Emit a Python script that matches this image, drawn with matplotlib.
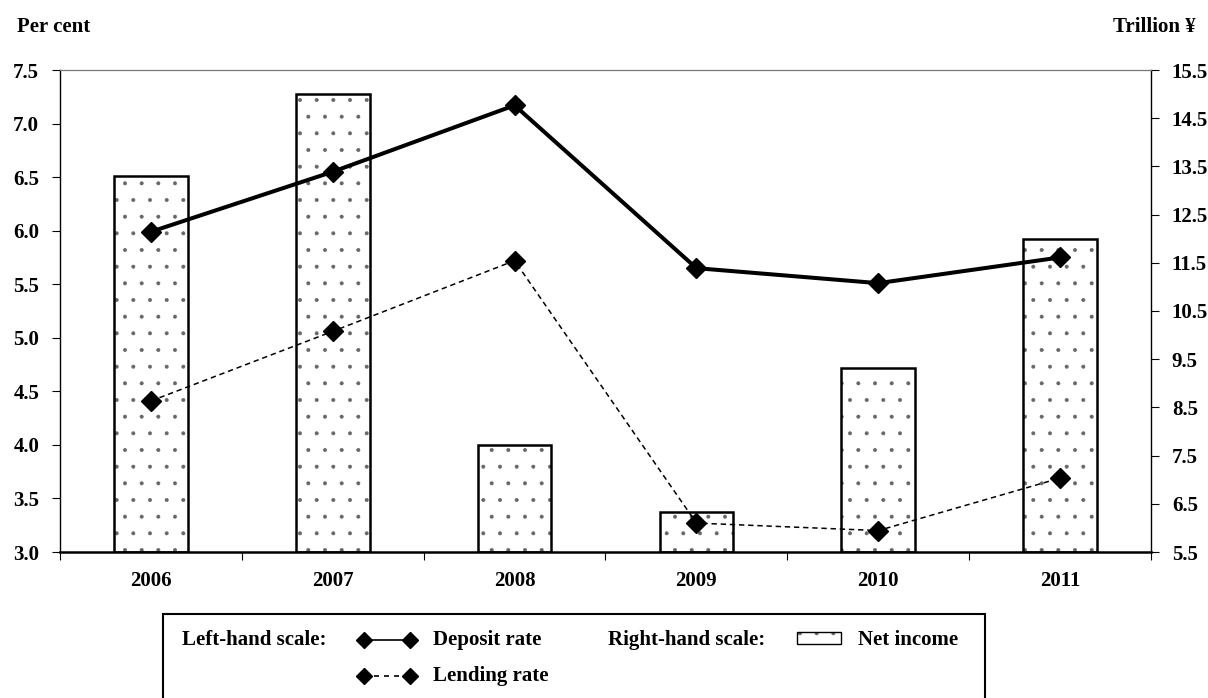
import matplotlib
matplotlib.use("Agg")
import matplotlib.pyplot as plt
from matplotlib.lines import Line2D
from matplotlib.patches import Rectangle

plt.rcParams['font.family'] = ['Liberation Serif', 'DejaVu Serif']
plt.rcParams['font.weight'] = 'bold'
plt.rcParams['hatch.linewidth'] = 0.4

years: list[str] = ['2006', '2007', '2008', '2009', '2010', '2011']
deposit_rate: list[float] = [5.99, 6.55, 7.17, 5.65, 5.51, 5.75]
lending_rate: list[float] = [4.41, 5.06, 5.72, 3.27, 3.20, 3.69]
net_income: list[float] = [13.3, 15.0, 7.72, 6.33, 9.32, 11.99]

left_ticks: list[float] = [3.0 + 0.5 * i for i in range(10)]
right_ticks: list[float] = [5.5 + 1.0 * i for i in range(11)]

W, H = 1208, 698
FS = 15
DOT = '#666666'


def fx(px: float) -> float:
    return px / W


def fy(py: float) -> float:
    return 1 - py / H


fig = plt.figure(figsize=(W / 100, H / 100), dpi=100)
ax = fig.add_axes([fx(60), fy(552), fx(1151) - fx(60), fy(70) - fy(552)])
ax2 = ax.twinx()

x = list(range(len(years)))

# --- bars on right-hand scale ---
heights = [v - 5.5 for v in net_income]
ax2.bar(x, heights, width=0.405, bottom=5.5, color='white', edgecolor=DOT,
        linewidth=0, hatch='.')
ax2.bar(x, heights, width=0.405, bottom=5.5, fill=False, edgecolor='black',
        linewidth=1.8)
ax2.set_ylim(5.5, 15.5)
ax2.set_yticks(right_ticks)
ax2.set_yticklabels([f'{t:.1f}' for t in right_ticks], fontsize=FS, fontweight='bold')
ax2.tick_params(axis='y', direction='out', length=6, width=0.8, pad=9)

# --- lines on left-hand scale ---
ax.set_zorder(ax2.get_zorder() + 1)
ax.patch.set_visible(False)
ax.plot(x, deposit_rate, '-', color='black', linewidth=2.9, marker='D',
        markersize=10, zorder=3)
ax.plot(x, lending_rate, color='black', linewidth=1.1, linestyle=(0, (3.5, 2.5)),
        marker='D', markersize=10, zorder=3)
ax.set_ylim(3.0, 7.5)
ax.set_xlim(-0.5, len(years) - 0.5)
ax.set_yticks(left_ticks)
ax.set_yticklabels([f'{t:.1f}' for t in left_ticks], fontsize=FS, fontweight='bold')
ax.tick_params(axis='y', direction='out', length=6, width=0.8, pad=9)
ax.set_xticks(x)
ax.set_xticklabels(years, fontsize=FS, fontweight='bold')
ax.set_xticks([i - 0.5 for i in range(len(years) + 1)], minor=True)
ax.tick_params(axis='x', which='major', length=0, pad=14)
ax.tick_params(axis='x', which='minor', direction='out', length=6, width=0.8)

for s in ax2.spines.values():
    s.set_visible(False)
ax.spines['right'].set_linewidth(1.0)
ax.spines['left'].set_linewidth(1.0)
ax.spines['bottom'].set_linewidth(1.8)
ax.spines['top'].set_linewidth(0.9)
ax.spines['top'].set_color('#777777')

# --- axis captions ---
fig.text(fx(17), fy(27), 'Per cent', fontsize=FS, fontweight='bold', va='center', ha='left')
fig.text(fx(1196), fy(27), 'Trillion ¥', fontsize=FS, fontweight='bold', va='center', ha='right')

# --- legend box ---
fig.add_artist(Rectangle((fx(163), fy(702)), fx(985) - fx(163), fy(614) - fy(702),
                         transform=fig.transFigure, fill=False, edgecolor='black',
                         linewidth=1.5))
fig.text(fx(182), fy(640), 'Left-hand scale:', fontsize=FS, fontweight='bold', va='center')
fig.add_artist(Line2D([fx(364), fx(410)], [fy(640), fy(640)], transform=fig.transFigure,
                      color='black', linewidth=1.2, marker='D', markersize=8))
fig.text(fx(433), fy(640), 'Deposit rate', fontsize=FS, fontweight='bold', va='center')
fig.add_artist(Line2D([fx(364), fx(410)], [fy(676), fy(676)], transform=fig.transFigure,
                      color='black', linewidth=1.2, linestyle=(0, (3, 3)),
                      marker='D', markersize=8))
fig.text(fx(433), fy(676), 'Lending rate', fontsize=FS, fontweight='bold', va='center')
fig.text(fx(608), fy(640), 'Right-hand scale:', fontsize=FS, fontweight='bold', va='center')
fig.add_artist(Rectangle((fx(797), fy(644)), fx(841) - fx(797), fy(632) - fy(644),
                         transform=fig.transFigure, facecolor='white',
                         edgecolor=DOT, linewidth=0, hatch='.'))
fig.add_artist(Rectangle((fx(797), fy(644)), fx(841) - fx(797), fy(632) - fy(644),
                         transform=fig.transFigure, fill=False, edgecolor='black',
                         linewidth=1.0))
fig.text(fx(858), fy(640), 'Net income', fontsize=FS, fontweight='bold', va='center')

fig.savefig('out.png', dpi=100)
